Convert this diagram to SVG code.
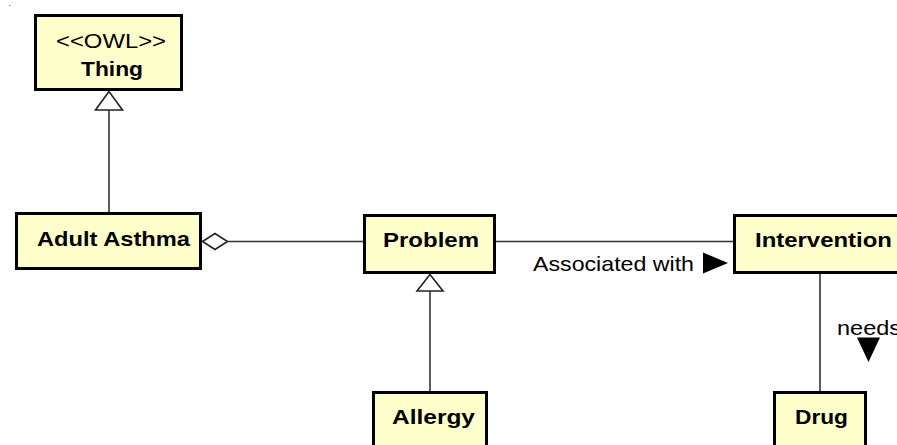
<svg xmlns="http://www.w3.org/2000/svg" width="897" height="445" viewBox="0 0 897 445">
  <style>
    .cls rect { fill: #ffffcc; stroke: #000; stroke-width: 3; }
    text { font-family: "Liberation Sans", Arial, sans-serif; font-size: 21px; fill: #000; }
    .b { font-weight: bold; }
    .edge { stroke: #333; stroke-width: 1.6; fill: none; }
    .hollow { fill: #fff; stroke: #222; stroke-width: 1.6; }
    .solid { fill: #000; stroke: none; }
  </style>
  <rect x="9" y="5" width="1.5" height="1" fill="#888"/>

  <!-- connectors -->
  <g id="connectors">
    <!-- Adult Asthma is-a Thing -->
    <line class="edge" x1="109" y1="110" x2="109" y2="212"/>
    <polygon class="hollow" points="109,91.5 95.5,110 122.5,110"/>
    <!-- Adult Asthma aggregates Problem -->
    <line class="edge" x1="228" y1="241.5" x2="363" y2="241.5"/>
    <polygon class="hollow" points="202.5,241.5 215,233.5 227.5,241.5 215,249.5"/>
    <!-- Problem associated with Intervention -->
    <line class="edge" x1="496" y1="241.5" x2="733" y2="241.5"/>
    <polygon class="solid" points="703,252.5 703,273.5 728,263"/>
    <text x="533" y="271" textLength="161" lengthAdjust="spacingAndGlyphs">Associated with</text>
    <!-- Allergy is-a Problem -->
    <line class="edge" x1="430" y1="291" x2="430" y2="391"/>
    <polygon class="hollow" points="430,274.5 417,291 443,291"/>
    <!-- Intervention needs Drug -->
    <line class="edge" x1="820" y1="274" x2="820" y2="391"/>
    <polygon class="solid" points="857,337.5 880,337.5 868.5,362"/>
    <text x="837" y="335" textLength="64" lengthAdjust="spacingAndGlyphs">needs</text>
  </g>

  <g id="thing" class="cls">
    <rect x="35.5" y="15.5" width="146" height="74"/>
    <text x="56" y="48" textLength="110" lengthAdjust="spacingAndGlyphs">&lt;&lt;OWL&gt;&gt;</text>
    <text class="b" x="81" y="76" textLength="62" lengthAdjust="spacingAndGlyphs">Thing</text>
  </g>

  <g id="adult-asthma" class="cls">
    <rect x="16.5" y="213.5" width="184" height="55"/>
    <text class="b" x="37" y="246" textLength="153" lengthAdjust="spacingAndGlyphs">Adult Asthma</text>
  </g>

  <g id="problem" class="cls">
    <rect x="364.5" y="215.5" width="130" height="57"/>
    <text class="b" x="383" y="247" textLength="96" lengthAdjust="spacingAndGlyphs">Problem</text>
  </g>

  <g id="intervention" class="cls">
    <rect x="734.5" y="215.5" width="170" height="57"/>
    <text class="b" x="755" y="247" textLength="137" lengthAdjust="spacingAndGlyphs">Intervention</text>
  </g>

  <g id="allergy" class="cls">
    <rect x="373.5" y="392.5" width="113" height="70"/>
    <text class="b" x="392" y="424" textLength="83" lengthAdjust="spacingAndGlyphs">Allergy</text>
  </g>

  <g id="drug" class="cls">
    <rect x="774.5" y="392.5" width="91" height="70"/>
    <text class="b" x="795" y="424" textLength="53" lengthAdjust="spacingAndGlyphs">Drug</text>
  </g>
</svg>
